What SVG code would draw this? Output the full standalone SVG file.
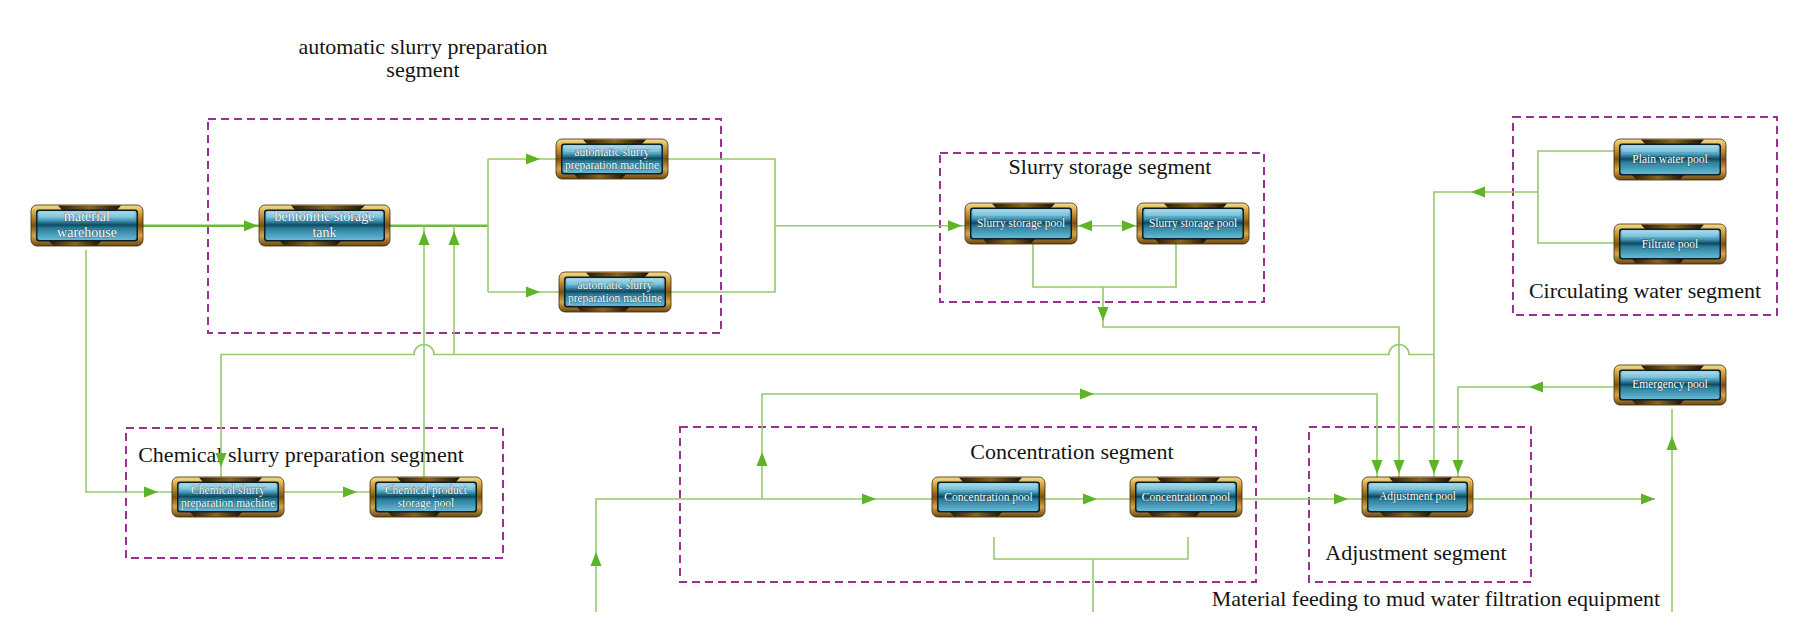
<svg xmlns="http://www.w3.org/2000/svg" xmlns:xlink="http://www.w3.org/1999/xlink" width="1805" height="630" viewBox="0 0 1805 630">
<defs>
<style>
.seg{fill:none;stroke:#9c2f93;stroke-width:2;stroke-dasharray:8 5}
.title{font-family:"Liberation Serif","Times New Roman",serif;font-size:22px;fill:#141414;text-anchor:middle}
.ln{fill:none;stroke:#95ca6e;stroke-width:1.6}
.thick{fill:none;stroke:#6cbb3a;stroke-width:2.6}
.frame{fill:url(#gold);stroke:#3b2806;stroke-width:0.8}
.tab{fill:url(#tabg)}
.rim{fill:#0b1f29}
.glass{fill:url(#blue)}
.shine{fill:#ffffff;opacity:0.18}
.lbl{font-family:"Liberation Serif","Times New Roman",serif;font-size:11.5px;fill:#ffffff;text-anchor:middle;stroke:#0c3343;stroke-width:0.5;paint-order:stroke}
.big{font-size:14px}
</style>
<linearGradient id="gold" x1="0" y1="0" x2="0" y2="1">
<stop offset="0" stop-color="#f6dd8c"/>
<stop offset="0.25" stop-color="#c99434"/>
<stop offset="0.5" stop-color="#7a5214"/>
<stop offset="0.75" stop-color="#d4a548"/>
<stop offset="1" stop-color="#6b4610"/>
</linearGradient>
<linearGradient id="tabg" x1="0" y1="0" x2="1" y2="0">
<stop offset="0" stop-color="#2a1c06"/>
<stop offset="0.5" stop-color="#8a6420"/>
<stop offset="1" stop-color="#1c1204"/>
</linearGradient>
<linearGradient id="blue" x1="0" y1="0" x2="0" y2="1">
<stop offset="0" stop-color="#9bd6ea"/>
<stop offset="0.3" stop-color="#4fa6c4"/>
<stop offset="0.48" stop-color="#0e4a60"/>
<stop offset="0.6" stop-color="#2c7f9c"/>
<stop offset="1" stop-color="#66b9d4"/>
</linearGradient>
<path id="ah" d="M0,0 L-14,-5.5 L-14,5.5 Z" fill="#5db427"/>
</defs>
<rect width="1805" height="630" fill="#ffffff"/>

<g id="segments">
<rect class="seg" x="208" y="119" width="513" height="214"/>
<text class="title" x="423" y="54">automatic slurry preparation</text>
<text class="title" x="423" y="77">segment</text>
<rect class="seg" x="940" y="153" width="324" height="149"/>
<text class="title" x="1110" y="174">Slurry storage segment</text>
<rect class="seg" x="1513" y="117" width="264" height="198"/>
<text class="title" x="1645" y="298">Circulating water segment</text>
<rect class="seg" x="126" y="428" width="377" height="130"/>
<text class="title" x="301" y="462">Chemical slurry preparation segment</text>
<rect class="seg" x="680" y="427" width="576" height="155"/>
<text class="title" x="1072" y="459">Concentration segment</text>
<rect class="seg" x="1309" y="427" width="222" height="155"/>
<text class="title" x="1416" y="560">Adjustment segment</text>
<text class="title" x="1436" y="606">Material feeding to mud water filtration equipment</text>
</g>

<g id="connectors">
<path class="thick" d="M143,225.7 H259 M390,225.7 H488"/>
<path class="ln" d="M488,159 V292 M488,159 H556 M488,292 H559"/>
<path class="ln" d="M668,159 H775 V292 H671 M775,225.7 H965"/>
<path class="ln" d="M1077,225.7 H1137"/>
<path class="ln" d="M1033,244 V287 H1176 V244 M1103,287 V327 H1399 V477"/>
<path class="ln" d="M1614,151 H1538 V243 H1614 M1538,192 H1434 V477"/>
<path class="ln" d="M1434,354.5 H1409 A10,10 0 0 0 1389,354.5 H434 A10,10 0 0 0 414,354.5 H221 V477"/>
<path class="ln" d="M454,354.5 V225.7 M424,477 V225.7"/>
<path class="ln" d="M86,250 V492 H172 M284,492 H370"/>
<path class="ln" d="M596,612 V499 H932 M762,499 V394 H1377 V477"/>
<path class="ln" d="M1045,499 H1130 M1242,499 H1362 M1473,499 H1655"/>
<path class="ln" d="M994,537 V559 H1188 V537 M1093,559 V612"/>
<path class="ln" d="M1672,612 V409"/>
<path class="ln" d="M1614,387 H1458 V477"/>
<use xlink:href="#ah" transform="translate(258,225.7)"/>
<use xlink:href="#ah" transform="translate(540,159)"/>
<use xlink:href="#ah" transform="translate(540,292)"/>
<use xlink:href="#ah" transform="translate(424,231) rotate(-90)"/>
<use xlink:href="#ah" transform="translate(454,231) rotate(-90)"/>
<use xlink:href="#ah" transform="translate(962,225.7)"/>
<use xlink:href="#ah" transform="translate(1078,225.7) rotate(180)"/>
<use xlink:href="#ah" transform="translate(1136,225.7)"/>
<use xlink:href="#ah" transform="translate(1103,321) rotate(90)"/>
<use xlink:href="#ah" transform="translate(1471,192) rotate(180)"/>
<use xlink:href="#ah" transform="translate(1529,387) rotate(180)"/>
<use xlink:href="#ah" transform="translate(1377,474) rotate(90)"/>
<use xlink:href="#ah" transform="translate(1399,474) rotate(90)"/>
<use xlink:href="#ah" transform="translate(1434,474) rotate(90)"/>
<use xlink:href="#ah" transform="translate(1458,474) rotate(90)"/>
<use xlink:href="#ah" transform="translate(221,467) rotate(90)"/>
<use xlink:href="#ah" transform="translate(158,492)"/>
<use xlink:href="#ah" transform="translate(357,492)"/>
<use xlink:href="#ah" transform="translate(596,552) rotate(-90)"/>
<use xlink:href="#ah" transform="translate(876,499)"/>
<use xlink:href="#ah" transform="translate(762,452) rotate(-90)"/>
<use xlink:href="#ah" transform="translate(1094,394)"/>
<use xlink:href="#ah" transform="translate(1097,499)"/>
<use xlink:href="#ah" transform="translate(1348,499)"/>
<use xlink:href="#ah" transform="translate(1655,499)"/>
<use xlink:href="#ah" transform="translate(1672,436) rotate(-90)"/>
</g>

<g id="n_warehouse" transform="translate(31,205)">
<rect class="frame" width="112" height="41" rx="6"/>
<polygon class="tab" points="27,0.5 90,0.5 86,5 31,5"/>
<polygon class="tab" points="18,36 70,36 66,40.5 22,40.5"/>
<rect class="rim" x="5" y="4.5" width="102" height="32" rx="3"/>
<rect class="glass" x="6.5" y="6" width="99" height="29" rx="2"/>
<rect class="shine" x="8" y="7" width="96" height="6" rx="2"/>
<text class="lbl big" x="56" y="16">material</text>
<text class="lbl big" x="56" y="31.5">warehouse</text>
</g>
<g id="n_bentonite" transform="translate(259,205)">
<rect class="frame" width="131" height="41" rx="6"/>
<polygon class="tab" points="32,0.5 106,0.5 101,5 36,5"/>
<polygon class="tab" points="21,36 82,36 77,40.5 25,40.5"/>
<rect class="rim" x="5" y="4.5" width="121" height="32" rx="3"/>
<rect class="glass" x="6.5" y="6" width="118" height="29" rx="2"/>
<rect class="shine" x="8" y="7" width="115" height="6" rx="2"/>
<text class="lbl big" x="65.5" y="16">bentonitic storage</text>
<text class="lbl big" x="65.5" y="31.5">tank</text>
</g>
<g id="n_auto1" transform="translate(556,139)">
<rect class="frame" width="112" height="40" rx="6"/>
<polygon class="tab" points="27,0.5 90,0.5 86,5 31,5"/>
<polygon class="tab" points="18,35 70,35 66,39.5 22,39.5"/>
<rect class="rim" x="5" y="4.5" width="102" height="31" rx="3"/>
<rect class="glass" x="6.5" y="6" width="99" height="28" rx="2"/>
<rect class="shine" x="8" y="7" width="96" height="6" rx="2"/>
<text class="lbl" x="56" y="17">automatic slurry</text>
<text class="lbl" x="56" y="30">preparation machine</text>
</g>
<g id="n_auto2" transform="translate(559,272)">
<rect class="frame" width="112" height="40" rx="6"/>
<polygon class="tab" points="27,0.5 90,0.5 86,5 31,5"/>
<polygon class="tab" points="18,35 70,35 66,39.5 22,39.5"/>
<rect class="rim" x="5" y="4.5" width="102" height="31" rx="3"/>
<rect class="glass" x="6.5" y="6" width="99" height="28" rx="2"/>
<rect class="shine" x="8" y="7" width="96" height="6" rx="2"/>
<text class="lbl" x="56" y="17">automatic slurry</text>
<text class="lbl" x="56" y="30">preparation machine</text>
</g>
<g id="n_slurry1" transform="translate(965,203)">
<rect class="frame" width="112" height="41" rx="6"/>
<polygon class="tab" points="27,0.5 90,0.5 86,5 31,5"/>
<polygon class="tab" points="18,36 70,36 66,40.5 22,40.5"/>
<rect class="rim" x="5" y="4.5" width="102" height="32" rx="3"/>
<rect class="glass" x="6.5" y="6" width="99" height="29" rx="2"/>
<rect class="shine" x="8" y="7" width="96" height="6" rx="2"/>
<text class="lbl" x="56" y="24">Slurry storage pool</text>
</g>
<g id="n_slurry2" transform="translate(1137,203)">
<rect class="frame" width="112" height="41" rx="6"/>
<polygon class="tab" points="27,0.5 90,0.5 86,5 31,5"/>
<polygon class="tab" points="18,36 70,36 66,40.5 22,40.5"/>
<rect class="rim" x="5" y="4.5" width="102" height="32" rx="3"/>
<rect class="glass" x="6.5" y="6" width="99" height="29" rx="2"/>
<rect class="shine" x="8" y="7" width="96" height="6" rx="2"/>
<text class="lbl" x="56" y="24">Slurry storage pool</text>
</g>
<g id="n_plain" transform="translate(1614,139)">
<rect class="frame" width="112" height="41" rx="6"/>
<polygon class="tab" points="27,0.5 90,0.5 86,5 31,5"/>
<polygon class="tab" points="18,36 70,36 66,40.5 22,40.5"/>
<rect class="rim" x="5" y="4.5" width="102" height="32" rx="3"/>
<rect class="glass" x="6.5" y="6" width="99" height="29" rx="2"/>
<rect class="shine" x="8" y="7" width="96" height="6" rx="2"/>
<text class="lbl" x="56" y="24">Plain water pool</text>
</g>
<g id="n_filtrate" transform="translate(1614,224)">
<rect class="frame" width="112" height="40" rx="6"/>
<polygon class="tab" points="27,0.5 90,0.5 86,5 31,5"/>
<polygon class="tab" points="18,35 70,35 66,39.5 22,39.5"/>
<rect class="rim" x="5" y="4.5" width="102" height="31" rx="3"/>
<rect class="glass" x="6.5" y="6" width="99" height="28" rx="2"/>
<rect class="shine" x="8" y="7" width="96" height="6" rx="2"/>
<text class="lbl" x="56" y="23.5">Filtrate pool</text>
</g>
<g id="n_emergency" transform="translate(1614,365)">
<rect class="frame" width="112" height="40" rx="6"/>
<polygon class="tab" points="27,0.5 90,0.5 86,5 31,5"/>
<polygon class="tab" points="18,35 70,35 66,39.5 22,39.5"/>
<rect class="rim" x="5" y="4.5" width="102" height="31" rx="3"/>
<rect class="glass" x="6.5" y="6" width="99" height="28" rx="2"/>
<rect class="shine" x="8" y="7" width="96" height="6" rx="2"/>
<text class="lbl" x="56" y="23">Emergency pool</text>
</g>
<g id="n_chem_machine" transform="translate(172,477)">
<rect class="frame" width="112" height="40" rx="6"/>
<polygon class="tab" points="27,0.5 90,0.5 86,5 31,5"/>
<polygon class="tab" points="18,35 70,35 66,39.5 22,39.5"/>
<rect class="rim" x="5" y="4.5" width="102" height="31" rx="3"/>
<rect class="glass" x="6.5" y="6" width="99" height="28" rx="2"/>
<rect class="shine" x="8" y="7" width="96" height="6" rx="2"/>
<text class="lbl" x="56" y="16.5">Chemical slurry</text>
<text class="lbl" x="56" y="29.5">preparation machine</text>
</g>
<g id="n_chem_product" transform="translate(370,477)">
<rect class="frame" width="112" height="40" rx="6"/>
<polygon class="tab" points="27,0.5 90,0.5 86,5 31,5"/>
<polygon class="tab" points="18,35 70,35 66,39.5 22,39.5"/>
<rect class="rim" x="5" y="4.5" width="102" height="31" rx="3"/>
<rect class="glass" x="6.5" y="6" width="99" height="28" rx="2"/>
<rect class="shine" x="8" y="7" width="96" height="6" rx="2"/>
<text class="lbl" x="56" y="16.5">Chemical product</text>
<text class="lbl" x="56" y="30">storage pool</text>
</g>
<g id="n_conc1" transform="translate(932,477)">
<rect class="frame" width="113" height="40" rx="6"/>
<polygon class="tab" points="27,0.5 90,0.5 86,5 31,5"/>
<polygon class="tab" points="18,35 70,35 66,39.5 22,39.5"/>
<rect class="rim" x="5" y="4.5" width="103" height="31" rx="3"/>
<rect class="glass" x="6.5" y="6" width="100" height="28" rx="2"/>
<rect class="shine" x="8" y="7" width="97" height="6" rx="2"/>
<text class="lbl" x="56.5" y="23.5">Concentration pool</text>
</g>
<g id="n_conc2" transform="translate(1130,477)">
<rect class="frame" width="112" height="40" rx="6"/>
<polygon class="tab" points="27,0.5 90,0.5 86,5 31,5"/>
<polygon class="tab" points="18,35 70,35 66,39.5 22,39.5"/>
<rect class="rim" x="5" y="4.5" width="102" height="31" rx="3"/>
<rect class="glass" x="6.5" y="6" width="99" height="28" rx="2"/>
<rect class="shine" x="8" y="7" width="96" height="6" rx="2"/>
<text class="lbl" x="56" y="23.5">Concentration pool</text>
</g>
<g id="n_adjust" transform="translate(1362,477)">
<rect class="frame" width="111" height="40" rx="6"/>
<polygon class="tab" points="27,0.5 90,0.5 86,5 31,5"/>
<polygon class="tab" points="18,35 70,35 66,39.5 22,39.5"/>
<rect class="rim" x="5" y="4.5" width="101" height="31" rx="3"/>
<rect class="glass" x="6.5" y="6" width="98" height="28" rx="2"/>
<rect class="shine" x="8" y="7" width="95" height="6" rx="2"/>
<text class="lbl" x="55.5" y="23">Adjustment pool</text>
</g>
</svg>
